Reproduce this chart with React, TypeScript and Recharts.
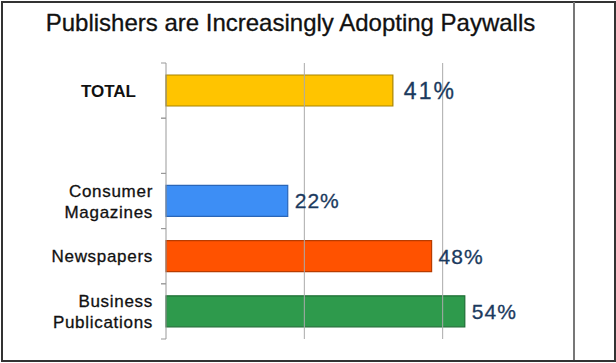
import { BarChart, Bar, XAxis, YAxis, Cell, LabelList, ReferenceLine } from 'recharts';

const categories = ['TOTAL', '', 'Consumer\nMagazines', 'Newspapers', 'Business\nPublications'];
const shares: Array<number | null> = [41, null, 22, 48, 54];
const barColors = ['#FFC400', 'transparent', '#3D8EF5', '#FF5200', '#2E9A4C'];
const barEdges = ['#A88400', 'transparent', '#2A66B8', '#B83C00', '#1E6E35'];
const gridValues = [25, 50];

const data = categories.map((name, i) => ({ name, value: shares[i] }));

const FONT = '"Liberation Sans", Arial, Helvetica, sans-serif';

function CategoryTick(props: any) {
  const { x, y, payload } = props;
  const label: string = payload.value;
  const isTotal = label === 'TOTAL';
  const lines = label.split('\n');
  const lineH = 21;
  const axisX = x + 13;
  const half = payload.offset || 0;
  const tx = isTotal ? x - 17 : x;
  return (
    <g>
      <line x1={axisX - 5} x2={axisX} y1={y - half} y2={y - half} stroke="#999" />
      <line x1={axisX - 5} x2={axisX} y1={y + half} y2={y + half} stroke="#999" />
      <text
        x={tx}
        y={y - ((lines.length - 1) * lineH) / 2}
        textAnchor="end"
        fill="#111"
        stroke={isTotal ? 'none' : '#111'}
        strokeWidth={0.3}
        fontFamily={FONT}
        fontSize={17}
        fontWeight={isTotal ? 700 : 400}
        letterSpacing={isTotal ? 0 : 0.7}
      >
        {lines.map((ln, i) => (
          <tspan key={i} x={tx} dy={i === 0 ? '0.36em' : lineH}>
            {ln}
          </tspan>
        ))}
      </text>
    </g>
  );
}

function ValueLabel(props: any) {
  const { x, y, width, height, value, index } = props;
  if (value == null) return null;
  const big = index === 0;
  return (
    <text
      x={x + width + (big ? 11 : 7)}
      y={y + height / 2}
      dy="0.36em"
      fill="#1B3A5E"
      stroke="#1B3A5E"
      strokeWidth={0.3}
      fontFamily={FONT}
      fontSize={big ? 23 : 21}
      letterSpacing={big ? 2 : 1}
    >
      {`${value}%`}
    </text>
  );
}

export default function App() {
  return (
    <div style={{ position: 'absolute', left: 0, top: 0, width: 616, height: 363, background: '#fff' }}>
      <div
        style={{
          position: 'absolute',
          left: 1,
          top: 1,
          width: 611,
          height: 357,
          border: '2px solid #333',
        }}
      />
      <div style={{ position: 'absolute', left: 573, top: 2, width: 2, height: 358, background: '#777' }} />
      <div
        style={{
          position: 'absolute',
          left: 0,
          top: 8,
          width: 581,
          textAlign: 'center',
          fontFamily: FONT,
          fontSize: 24,
          color: '#111',
          lineHeight: '30px',
          WebkitTextStroke: '0.3px #111',
        }}
      >
        Publishers are Increasingly Adopting Paywalls
      </div>
      <div style={{ position: 'absolute', left: 0, top: 0 }}>
        <BarChart
          width={616}
          height={363}
          data={data}
          layout="vertical"
          margin={{ top: 63, right: 35, bottom: 24, left: 0 }}
        >
          <XAxis type="number" domain={[0, 75]} hide />
          <YAxis
            type="category"
            dataKey="name"
            width={166}
            axisLine={{ stroke: '#999' }}
            tickLine={false}
            tickSize={5}
            tickMargin={8}
            tick={<CategoryTick />}
            interval={0}
          />
          {gridValues.map((v) => (
            <ReferenceLine key={v} x={v} stroke="#AAA" strokeWidth={1} />
          ))}
          <Bar dataKey="value" barSize={31} isAnimationActive={false}>
            {data.map((d, i) => (
              <Cell key={i} fill={barColors[i]} stroke={barEdges[i]} strokeWidth={1.2} />
            ))}
            <LabelList dataKey="value" content={<ValueLabel />} />
          </Bar>
        </BarChart>
      </div>
    </div>
  );
}
